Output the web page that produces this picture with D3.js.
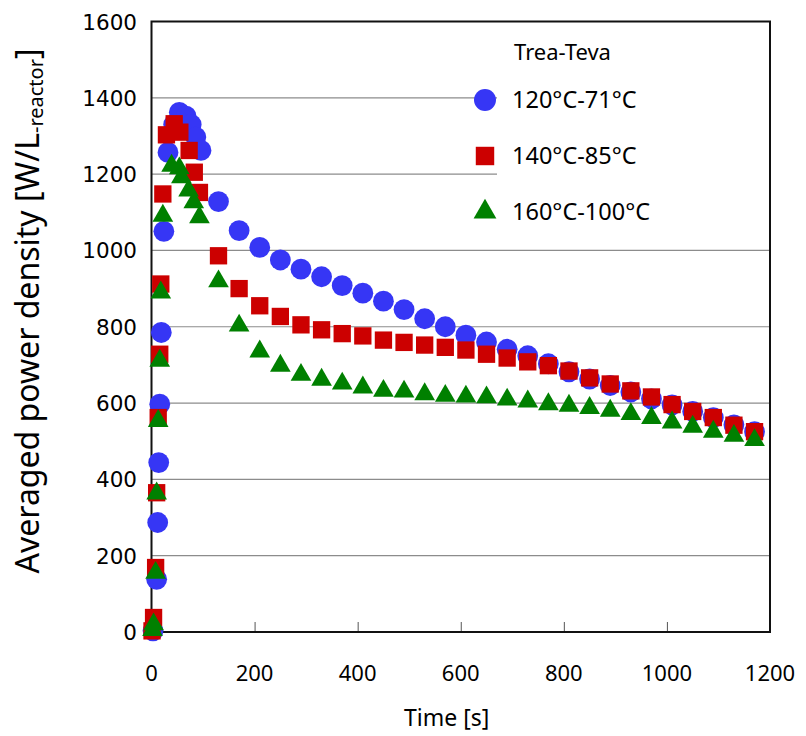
<!DOCTYPE html>
<html>
<head>
<meta charset="utf-8">
<script src="https://cdn.jsdelivr.net/npm/d3@7"></script>
<style>
  body { margin: 0; background: #fff; }
  svg { display: block; }
</style>
</head>
<body>
<div class="graphContainer"></div>
<script>
// size of the page and of the plot frame
const w = 806;
const h = 736;
const pLeft = 151.5, pRight = 770, pTop = 21.5, pBottom = 632;

// tick values
const xTicks = [0, 200, 400, 600, 800, 1000, 1200];
const yTicks = [0, 200, 400, 600, 800, 1000, 1200, 1400, 1600];

// series names (legend)
const legendTitle = "Trea-Teva";
const seriesNames = ["120\u00B0C-71\u00B0C", "140\u00B0C-85\u00B0C", "160\u00B0C-100\u00B0C"];

// 120C-71C (blue circles)
const blueTime = [3, 10, 12, 14, 16, 19, 24, 32, 43, 54, 67, 77, 86, 96,
  130, 170, 210, 250, 290, 330, 370, 410, 450, 490, 530, 570, 610, 650,
  690, 730, 770, 810, 850, 890, 930, 970, 1010, 1050, 1090, 1130, 1170];
const bluePower = [3, 138, 287, 444, 597, 785, 1050, 1257, 1330, 1362, 1352, 1330, 1297, 1262,
  1128, 1052, 1008, 975, 951, 931, 908, 888, 867, 845, 821, 800, 778, 760,
  741, 724, 703, 682, 663, 646, 629, 611, 595, 578, 562, 543, 525];

// 140C-85C (red squares)
const redTime = [1, 4, 8, 10, 13, 16, 18, 22, 29, 44, 55, 73, 83, 93,
  130, 170, 210, 250, 290, 330, 370, 410, 450, 490, 530, 570, 610, 650,
  690, 730, 770, 810, 850, 890, 930, 970, 1010, 1050, 1090, 1130, 1170];
const redPower = [3, 38, 169, 365, 562, 728, 912, 1148, 1303, 1332, 1310, 1262, 1205, 1152,
  986, 900, 855, 827, 805, 792, 782, 776, 765, 759, 752, 746, 739, 728,
  718, 708, 698, 684, 666, 650, 632, 616, 596, 578, 562, 542, 525];

// 160C-100C (green triangles)
const greenTime = [2, 4, 8, 10, 13, 16, 18, 22, 39, 54, 58, 72, 82, 93,
  130, 170, 210, 250, 290, 330, 370, 410, 450, 490, 530, 570, 610, 650,
  690, 730, 770, 810, 850, 890, 930, 970, 1010, 1050, 1090, 1130, 1170];
const greenPower = [5, 20, 155, 363, 553, 711, 890, 1091, 1222, 1215, 1192, 1157, 1126, 1087,
  919, 803, 735, 698, 674, 661, 651, 641, 632, 630, 623, 619, 617, 615,
  609, 604, 597, 593, 587, 580, 571, 561, 549, 538, 525, 514, 503];

const series = [
  {name: seriesNames[0], t: blueTime, v: bluePower, color: "#3636f5", shape: d3.symbolCircle, size: 340},
  {name: seriesNames[1], t: redTime, v: redPower, color: "#cc0000", shape: d3.symbolSquare, size: 300},
  {name: seriesNames[2], t: greenTime, v: greenPower, color: "#008000", shape: d3.symbolTriangle, size: 185}
];

const svg = d3.select(".graphContainer").append("svg")
  .attr("width", w)
  .attr("height", h);

const xScale = d3.scaleLinear().domain([0, 1200]).range([pLeft, pRight]);
const yScale = d3.scaleLinear().domain([0, 1600]).range([pBottom, pTop]);

// horizontal grid lines
svg.append("g")
  .selectAll("line")
  .data(yTicks.slice(1, -1))
  .enter()
  .append("line")
  .attr("x1", pLeft).attr("x2", pRight)
  .attr("y1", d => yScale(d)).attr("y2", d => yScale(d))
  .attr("stroke", "#8c8c8c")
  .attr("stroke-width", 1.2);

// legend background hides the grid behind it
svg.append("rect")
  .attr("x", 497).attr("y", pTop + 1)
  .attr("width", pRight - 497 - 1).attr("height", 213)
  .attr("fill", "#fff");

// axes (inner ticks, labels drawn separately)
const xAxis = d3.axisBottom(xScale).tickValues(xTicks).tickSize(-10).tickFormat("");
svg.append("g")
  .attr("transform", "translate(0," + pBottom + ")")
  .call(xAxis)
  .call(g => g.select(".domain").remove())
  .selectAll("line").attr("stroke", "#555");

svg.selectAll(".xlab")
  .data(xTicks)
  .enter()
  .append("text")
  .attr("class", "xlab")
  .attr("x", d => xScale(d))
  .attr("y", 681)
  .attr("text-anchor", "middle")
  .style("font-family", "'Noto Sans', sans-serif")
  .style("font-size", "22px")
  .text(d => d);

svg.selectAll(".ylab")
  .data(yTicks)
  .enter()
  .append("text")
  .attr("class", "ylab")
  .attr("x", 137)
  .attr("y", d => yScale(d) + 8)
  .attr("text-anchor", "end")
  .style("font-family", "'DejaVu Sans', sans-serif")
  .style("font-size", "21.5px")
  .text(d => d);

// frame
svg.append("rect")
  .attr("x", pLeft).attr("y", pTop)
  .attr("width", pRight - pLeft).attr("height", pBottom - pTop)
  .attr("fill", "none")
  .attr("stroke", "#111")
  .attr("stroke-width", 2);

// points
series.forEach(s => {
  svg.append("g")
    .selectAll("path")
    .data(s.t.map((t, i) => ({t: t, v: s.v[i]})))
    .enter()
    .append("path")
    .attr("d", d3.symbol().type(s.shape).size(s.size))
    .attr("transform", d => "translate(" + xScale(d.t) + "," + yScale(d.v) + ")")
    .attr("fill", s.color);
});

// legend
svg.append("text")
  .attr("x", 514).attr("y", 60)
  .style("font-family", "'Noto Sans', sans-serif")
  .style("font-size", "22px")
  .text(legendTitle);

series.forEach((s, i) => {
  const ly = 100 + i * 56;
  svg.append("path")
    .attr("d", d3.symbol().type(s.shape).size(s.size + 40))
    .attr("transform", "translate(485," + ly + ")")
    .attr("fill", s.color);
  svg.append("text")
    .attr("x", 512).attr("y", ly + 8)
    .style("font-family", "'Noto Sans', sans-serif")
    .style("font-size", "23.5px")
    .text(s.name);
});

// axis titles
svg.append("text")
  .attr("x", xScale(600) - 14).attr("y", 726)
  .attr("text-anchor", "middle")
  .style("font-family", "'Noto Sans', sans-serif")
  .style("font-size", "23px")
  .text("Time [s]");

const yTitle = svg.append("text")
  .attr("transform", "translate(39,311) rotate(-90)")
  .attr("text-anchor", "middle")
  .style("font-family", "'Noto Sans', sans-serif")
  .style("font-size", "32px");
yTitle.append("tspan").text("Averaged power density [W/L");
yTitle.append("tspan").attr("dy", 4).style("font-size", "20px").text("-reactor");
yTitle.append("tspan").attr("dy", -4).text("]");
</script>
</body>
</html>
